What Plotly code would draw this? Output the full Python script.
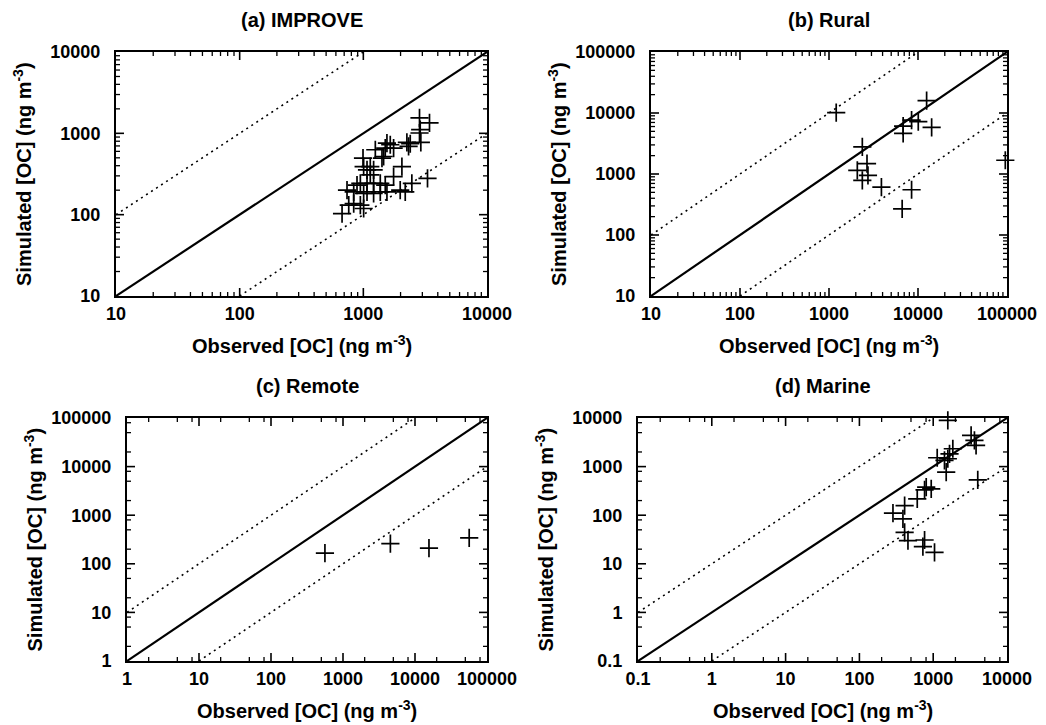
import math
import plotly.graph_objects as go

# ---------------- data ----------------
improve_obs = [673, 762, 836, 946, 1006, 738, 836, 889, 946, 1071, 1006, 1071, 1211, 1211, 1371,
               1371, 1504, 1552, 1757, 2051, 1987, 2182, 2468, 3303, 1006, 1071, 1138, 1211, 994,
               1415, 1459, 1250, 1504, 1552, 1651, 1757, 2250, 2395, 2322, 2917, 2846, 2884, 2846,
               3428, 1138]
improve_sim = [103, 131, 137, 131, 119, 200, 191, 231, 242, 242, 182, 191, 182, 242, 242,
               191, 231, 191, 293, 390, 200, 191, 242, 279, 390, 355, 390, 355, 495,
               495, 519, 628, 658, 759, 724, 658, 774, 745, 690, 774, 1009, 1110, 1549,
               1343, 308]

rural_obs = [1205, 12500, 8470, 10070, 6810, 6810, 14230, 2368, 2673, 2080, 2740, 2368, 3880, 8470, 6640, 95700]
rural_sim = [10120, 15960, 7670, 7200, 6100, 4620, 5800, 2790, 1480, 1148, 951, 787, 611, 552, 268, 1680]

remote_obs = [561, 4550, 15630, 56600]
remote_sim = [166, 259, 211, 340]

marine_obs = [1578, 3264, 3620, 3810, 1845, 1664, 1578, 1133, 1422, 1500, 4016, 804, 940, 764,
              608, 410, 285, 389, 410, 455, 764, 725, 1042]
marine_sim = [8950, 4390, 3460, 2730, 2330, 1836, 1449, 1520, 1340, 769, 534, 377, 348, 332,
              217, 158, 110, 84, 44.5, 29.9, 30.9, 22.5, 17.2]

titles = ["(a) IMPROVE", "(b) Rural", "(c) Remote", "(d) Marine"]
ranges = [(1, 4), (1, 5), (0, 5), (-1, 4)]          # log10 decades, same for x and y
minor_mults = [[2, 3, 4, 5, 6, 7, 8, 9], [2, 3, 4, 5, 6, 7, 8, 9], [2, 5, 8], [2, 5, 8]]
xlabel = "Observed [OC] (ng m<sup>-3</sup>)"
ylabel = "Simulated [OC] (ng m<sup>-3</sup>)"

obs = [improve_obs, rural_obs, remote_obs, marine_obs]
sim = [improve_sim, rural_sim, remote_sim, marine_sim]

# ---------------- layout geometry (px) ----------------
W, H = 1046, 725
boxes = [  # left, right, top, bottom in px
    (116, 487, 52, 296),
    (651, 1007, 52, 296),
    (127, 487, 418, 661),
    (638, 1007, 418, 661),
]
MAJOR_LEN, MINOR_LEN = 8, 4

FONT = "Liberation Sans, Arial, Helvetica, sans-serif"
fig = go.Figure()
annotations = []
shapes = []
axes_layout = {}

for i in range(4):
    lo, hi = ranges[i]
    n = i + 1
    xa = "x" if i == 0 else f"x{n}"
    ya = "y" if i == 0 else f"y{n}"
    # reference lines 1:1, 10:1, 1:10
    xs = [10.0 ** lo, 10.0 ** hi]
    fig.add_trace(go.Scatter(x=xs, y=xs, mode="lines", line=dict(color="black", width=2.2),
                             xaxis=xa, yaxis=ya, showlegend=False, hoverinfo="skip"))
    fig.add_trace(go.Scatter(x=[10.0 ** lo, 10.0 ** (hi - 1)], y=[10.0 ** (lo + 1), 10.0 ** hi],
                             mode="lines", line=dict(color="black", width=1.6, dash="2px,4px"),
                             xaxis=xa, yaxis=ya, showlegend=False, hoverinfo="skip"))
    fig.add_trace(go.Scatter(x=[10.0 ** (lo + 1), 10.0 ** hi], y=[10.0 ** lo, 10.0 ** (hi - 1)],
                             mode="lines", line=dict(color="black", width=1.6, dash="2px,4px"),
                             xaxis=xa, yaxis=ya, showlegend=False, hoverinfo="skip"))
    fig.add_trace(go.Scatter(x=obs[i], y=sim[i], mode="markers",
                             marker=dict(symbol="cross-thin", size=13, color="black",
                                         line=dict(width=1.7, color="black")),
                             xaxis=xa, yaxis=ya, showlegend=False, cliponaxis=False))

    l, r, t, b = boxes[i]
    common = dict(type="log", range=[lo, hi], showgrid=False, zeroline=False, automargin=False,
                  showline=True, linecolor="black", linewidth=2, mirror=True,
                  ticks="", dtick=1, tickformat="~g",
                  tickfont=dict(family=FONT, size=18, color="black"))
    xkey = "xaxis" if i == 0 else f"xaxis{n}"
    ykey = "yaxis" if i == 0 else f"yaxis{n}"
    axes_layout[xkey] = dict(common, domain=[l / W, r / W], anchor=ya)
    axes_layout[ykey] = dict(common, domain=[(H - b) / H, (H - t) / H], anchor=xa,
                             ticksuffix="\u00a0\u00a0")

    # inside tick marks on all four sides (values given as data values on the log axes)
    wpx, hpx = r - l, b - t
    ticks = [(10.0 ** k, MAJOR_LEN, 1.6) for k in range(lo + 1, hi)]
    ticks += [(m * 10.0 ** k, MINOR_LEN, 1.3) for k in range(lo, hi) for m in minor_mults[i]]
    for val, ln, w in ticks:
        for y0, y1 in [(0, ln / hpx), (1, 1 - ln / hpx)]:
            shapes.append(dict(type="line", xref=xa, yref=f"{ya} domain", x0=val, x1=val,
                               y0=y0, y1=y1, line=dict(color="black", width=w), layer="above"))
        for x0, x1 in [(0, ln / wpx), (1, 1 - ln / wpx)]:
            shapes.append(dict(type="line", yref=ya, xref=f"{xa} domain", y0=val, y1=val,
                               x0=x0, x1=x1, line=dict(color="black", width=w), layer="above"))

    cx = (l + r) / 2
    cy = (t + b) / 2
    annotations.append(dict(text=titles[i], x=cx / W, y=1 - (t - 32) / H, xref="paper", yref="paper",
                            xanchor="center", yanchor="middle", showarrow=False,
                            font=dict(family=FONT, size=20, color="black", weight="bold")))
    annotations.append(dict(text=xlabel, x=cx / W, y=1 - (b + 48) / H, xref="paper", yref="paper",
                            xanchor="center", yanchor="middle", showarrow=False,
                            font=dict(family=FONT, size=20, color="black", weight="bold")))
    annotations.append(dict(text=ylabel, x=(l - 94) / W, y=1 - cy / H, xref="paper", yref="paper",
                            xanchor="center", yanchor="middle", showarrow=False, textangle=-90,
                            font=dict(family=FONT, size=20, color="black", weight="bold")))

fig.update_layout(**axes_layout)
fig.update_layout(width=W, height=H, autosize=False, margin=dict(l=0, r=0, t=0, b=0),
                  template="none", showlegend=False, shapes=shapes,
                  paper_bgcolor="white", plot_bgcolor="white", annotations=annotations,
                  font=dict(family=FONT, color="black", weight="bold"))

fig.write_html("out.html")
